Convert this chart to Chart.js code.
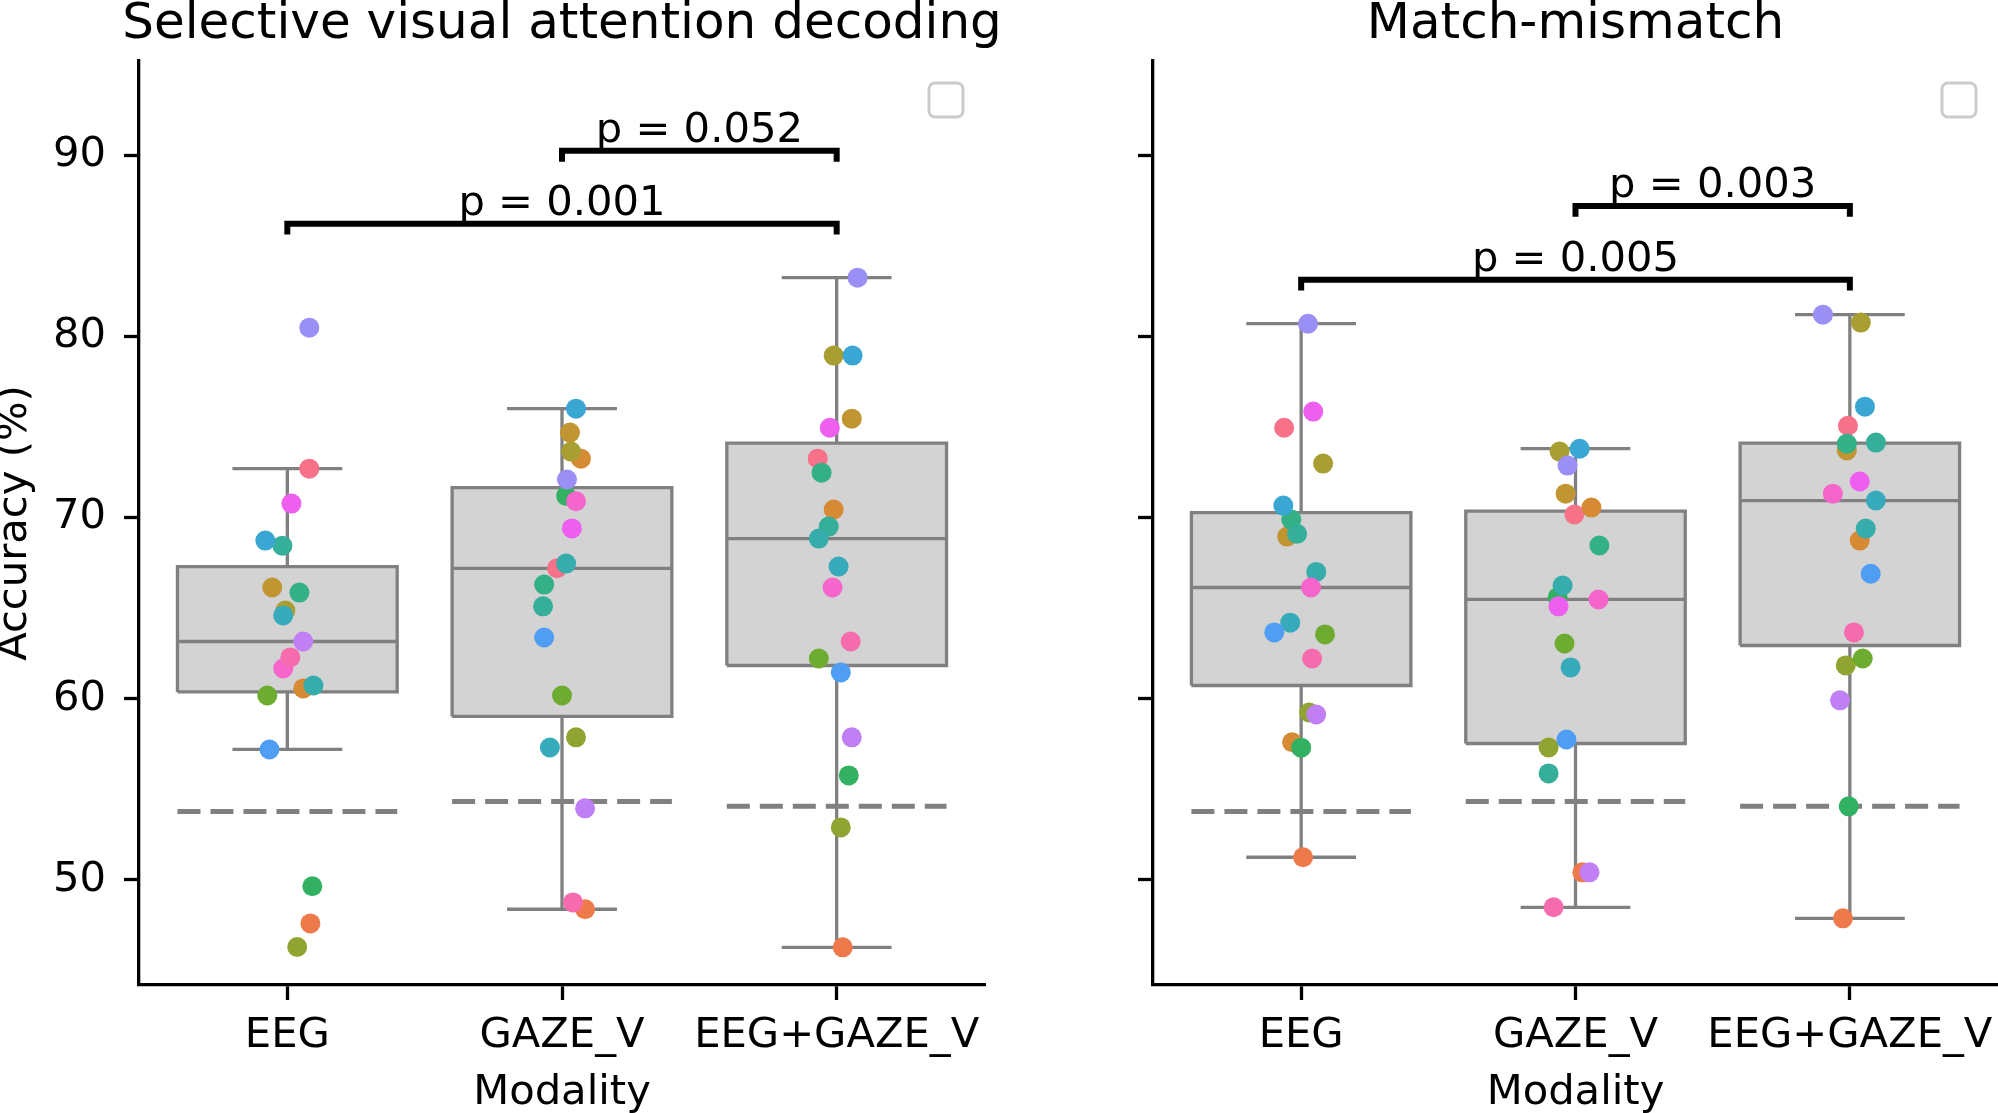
<!DOCTYPE html>
<html><head><meta charset="utf-8">
<script src="https://cdn.jsdelivr.net/npm/chart.js@4.4.1/dist/chart.umd.min.js"></script>
<style>
html,body{margin:0;padding:0;background:#fff;overflow:hidden}
#wrap{position:relative;width:1998px;height:1113px;background:#fff;overflow:hidden}
canvas{position:absolute;top:0}
#c1{left:0;width:1000px;height:1113px}
#c2{left:1000px;width:1013px;height:1113px}
</style></head><body>
<div id="wrap"><canvas id="c2" width="1013" height="1113"></canvas><canvas id="c1" width="1000" height="1113"></canvas></div>
<script>
// ---------- data ----------
const categories = ['EEG', 'GAZE_V', 'EEG+GAZE_V'];
const yTicks = [50, 60, 70, 80, 90];
const titleLeft = 'Selective visual attention decoding';
const titleRight = 'Match-mismatch';

// accuracy (%) per subject (19 subjects, same order in every array)
const svadEEG     = [72.7, 47.6, 60.57, 66.14, 64.87, 46.3, 60.18, 49.65, 65.86, 68.45, 60.73, 64.6, 68.73, 57.2, 80.48, 63.16, 70.77, 61.67, 62.28];
const svadGAZE    = [67.2, 48.38, 73.25, 74.69, 73.64, 57.87, 60.18, 71.2, 66.3, 65.1, 67.46, 57.31, 76.01, 63.38, 72.1, 53.95, 69.4, 70.9, 48.76];
const svadBoth    = [73.25, 46.28, 70.44, 75.46, 78.94, 52.9, 62.22, 55.77, 72.48, 69.5, 68.84, 67.3, 78.94, 61.45, 83.24, 57.87, 74.96, 66.14, 63.16];
const mmEEG       = [74.96, 51.25, 57.6, 68.95, 72.98, 59.24, 63.55, 57.3, 69.89, 69.1, 67.0, 64.2, 70.66, 63.66, 80.7, 59.13, 75.85, 66.14, 62.22];
const mmGAZE      = [70.17, 50.42, 70.55, 71.32, 73.64, 57.31, 63.05, 65.6, 68.46, 55.88, 66.25, 61.73, 73.8, 57.75, 72.87, 50.42, 65.1, 65.48, 48.49];
const mmBoth      = [75.07, 47.88, 68.73, 73.7, 80.76, 61.84, 62.22, 54.06, 74.08, 74.14, 69.39, 70.94, 76.12, 66.9, 81.2, 59.91, 71.99, 71.32, 63.66];

// chance level per modality (dashed lines)
const chanceLevels = [53.78, 54.33, 54.06];

// significance brackets
const svadSigLabels = ['p = 0.052', 'p = 0.001'];
const svadSigFrom = [1, 0];
const svadSigTo = [2, 2];
const svadSigY = [90.24, 86.22];
const mmSigLabels = ['p = 0.003', 'p = 0.005'];
const mmSigFrom = [1, 0];
const mmSigTo = [2, 2];
const mmSigY = [87.2, 83.13];

// strip-plot jitter (category units), per subject
const svadJitEEG  = [.08, .084, .058, -.055, -.007, .036, -.073, .091, .044, -.018, .095, -.015, -.08, -.065, .08, .058, .015, -.015, .011];
const svadJitGAZE = [-.018, .084, .069, .029, .033, .051, 0, .015, -.065, -.069, .015, -.044, .051, -.065, .018, .084, .036, .051, .04];
const svadJitBoth = [-.069, .022, -.011, .055, -.011, .015, -.065, .044, -.055, -.029, -.065, .007, .058, .015, .076, .055, -.025, -.015, .051];
const mmJitEEG    = [-.062, .007, -.033, -.051, .08, .029, .087, 0, -.036, -.015, .055, -.04, -.065, -.098, .025, .055, .044, .036, .04];
const mmJitGAZE   = [-.004, .025, .058, -.036, -.058, -.098, -.04, -.065, .087, -.098, -.047, -.018, .015, -.033, -.029, .051, -.062, .084, -.08];
const mmJitBoth   = [-.007, -.025, .036, -.011, .04, -.015, .047, -.004, -.011, .095, .058, .095, .055, .076, -.098, -.036, .036, -.062, .015];

// subject colours (husl-like palette)
const subjectColors = ['#f77189','#ee7a4c','#d68a34','#c09532','#a89e31','#90a531','#6dac31','#33b162','#33b086','#35ae9a','#36acac','#37aabb','#3aa6d3','#4f9ef4','#9a8ff4','#c07ff4','#ee5ff0','#f565cc','#f66bad'];

// ---------- helpers ----------
const FONT = 'DejaVu Sans';
const FS = 41.7;
Chart.defaults.font.family = FONT;
const GRAY = '#808080';

function quantile(s, p) {
  const pos = (s.length - 1) * p, lo = Math.floor(pos), hi = Math.ceil(pos);
  return s[lo] + (s[hi] - s[lo]) * (pos - lo);
}
function boxStats(vals) {
  const s = [...vals].sort((a, b) => a - b);
  const q1 = quantile(s, .25), med = quantile(s, .5), q3 = quantile(s, .75);
  const iqr = q3 - q1;
  const lo = Math.min(...s.filter(v => v >= q1 - 1.5 * iqr));
  const hi = Math.max(...s.filter(v => v <= q3 + 1.5 * iqr));
  return {q1, med, q3, lo, hi};
}
function seg(points, extra) {
  return Object.assign({
    type: 'line', data: points, showLine: true, pointRadius: 0, pointHoverRadius: 0,
    borderColor: GRAY, borderWidth: 3.3, fill: false, tension: 0,
    borderCapStyle: 'butt', borderJoinStyle: 'miter', order: 4
  }, extra || {});
}

function buildDatasets(groups, jitters, sigFrom, sigTo, sigY) {
  const ds = [];
  const BW = 0.4, CW = 0.2, TIP = 0.6;
  groups.forEach((vals, c) => {
    const b = boxStats(vals);
    ds.push(seg([{x: c - BW, y: b.q3}, {x: c + BW, y: b.q3}],
      {borderColor: 'rgba(0,0,0,0)', fill: {value: b.q1}, backgroundColor: '#d3d3d3', order: 10}));
    ds.push(seg([{x: c - BW, y: b.q1}, {x: c + BW, y: b.q1}, {x: c + BW, y: b.q3}, {x: c - BW, y: b.q3}, {x: c - BW, y: b.q1}]));
    ds.push(seg([{x: c - BW, y: b.med}, {x: c + BW, y: b.med}]));
    ds.push(seg([{x: c, y: b.q3}, {x: c, y: b.hi}]));
    ds.push(seg([{x: c, y: b.q1}, {x: c, y: b.lo}]));
    ds.push(seg([{x: c - CW, y: b.hi}, {x: c + CW, y: b.hi}]));
    ds.push(seg([{x: c - CW, y: b.lo}, {x: c + CW, y: b.lo}]));
    ds.push(seg([{x: c - BW, y: chanceLevels[c]}, {x: c + BW, y: chanceLevels[c]}],
      {borderWidth: 5, borderDash: [23, 10], order: 3}));
    ds.push({
      type: 'line', showLine: false, order: 0,
      data: vals.map((v, i) => ({x: c + jitters[c][i], y: v})),
      pointRadius: 10, pointHoverRadius: 10, pointBorderWidth: 0,
      pointBorderColor: 'rgba(0,0,0,0)', pointBackgroundColor: subjectColors
    });
  });
  sigY.forEach((y, i) => {
    ds.push(seg([{x: sigFrom[i], y: y - TIP}, {x: sigFrom[i], y: y}, {x: sigTo[i], y: y}, {x: sigTo[i], y: y - TIP}],
      {borderColor: '#000', borderWidth: 6, order: 1}));
  });
  return ds;
}

// p-value labels, panel title (allowed to be wider than the plot area) and the empty legend frame
const sigPlugin = {
  id: 'sig',
  afterDatasetsDraw(chart, args, o) {
    const {ctx, chartArea: a, scales: {x, y}} = chart;
    ctx.save();
    ctx.fillStyle = '#000';
    ctx.textAlign = 'center';
    ctx.textBaseline = 'alphabetic';
    ctx.font = '50px "' + FONT + '"';
    ctx.fillText(o.title, (a.left + a.right) / 2, a.top - 23);
    ctx.font = FS + 'px "' + FONT + '"';
    o.labels.forEach((t, i) => {
      ctx.fillText(t, x.getPixelForValue((o.from[i] + o.to[i]) / 2), y.getPixelForValue(o.y[i]) - 9);
    });
    ctx.beginPath();
    ctx.roundRect(a.right - 56, a.top + 22, 34, 34, 6);
    ctx.fillStyle = 'rgba(255,255,255,0.8)';
    ctx.fill();
    ctx.lineWidth = 3;
    ctx.strokeStyle = '#cccccc';
    ctx.stroke();
    ctx.restore();
  }
};

function makeChart(id, title, groups, jitters, sigLabels, sigFrom, sigTo, sigY, isLeft) {
  const tickGrid = {drawOnChartArea: false, drawTicks: true, tickLength: 15, tickWidth: 3.3, tickColor: '#000'};
  const border = {display: true, color: '#000', width: 3.3};
  return new Chart(document.getElementById(id), {
    type: 'line',
    data: {datasets: buildDatasets(groups, jitters, sigFrom, sigTo, sigY)},
    plugins: [sigPlugin],
    options: {
      responsive: false, maintainAspectRatio: false, animation: false, devicePixelRatio: 1,
      events: [],
      layout: {padding: {left: 0, right: 15, top: 61, bottom: 0}},
      plugins: {
        legend: {display: false},
        tooltip: {enabled: false},
        title: {display: false},
        sig: {title: title, labels: sigLabels, from: sigFrom, to: sigTo, y: sigY}
      },
      scales: {
        x: {
          type: 'linear', min: -0.54, max: 2.54,
          afterBuildTicks: s => { s.ticks = categories.map((_, i) => ({value: i})); },
          ticks: {callback: v => categories[Math.round(v)], font: {family: FONT, size: FS}, color: '#000',
            padding: 11.5, maxRotation: 0, minRotation: 0, autoSkip: false},
          grid: tickGrid, border: border,
          title: {display: true, text: 'Modality', color: '#000', font: {family: FONT, size: FS, lineHeight: 1},
            padding: {top: 0, bottom: -1}},
          afterFit: s => { s.height = 128; s.paddingLeft = 0; s.paddingRight = 0; }
        },
        y: {
          type: 'linear', min: 44.2, max: 95.2,
          afterBuildTicks: s => { s.ticks = yTicks.map(v => ({value: v})); },
          ticks: {display: isLeft, font: {family: FONT, size: FS}, color: '#000', padding: 18},
          grid: tickGrid, border: border,
          title: {display: isLeft, text: 'Accuracy (%)', color: '#000', font: {family: FONT, size: FS, lineHeight: 1},
            padding: {top: -6, bottom: 0}},
          afterFit: s => { s.width = isLeft ? 139 : 153; s.paddingTop = 0; s.paddingBottom = 0; }
        }
      }
    }
  });
}

makeChart('c1', titleLeft, [svadEEG, svadGAZE, svadBoth], [svadJitEEG, svadJitGAZE, svadJitBoth],
  svadSigLabels, svadSigFrom, svadSigTo, svadSigY, true);
makeChart('c2', titleRight, [mmEEG, mmGAZE, mmBoth], [mmJitEEG, mmJitGAZE, mmJitBoth],
  mmSigLabels, mmSigFrom, mmSigTo, mmSigY, false);
</script>
</body></html>
